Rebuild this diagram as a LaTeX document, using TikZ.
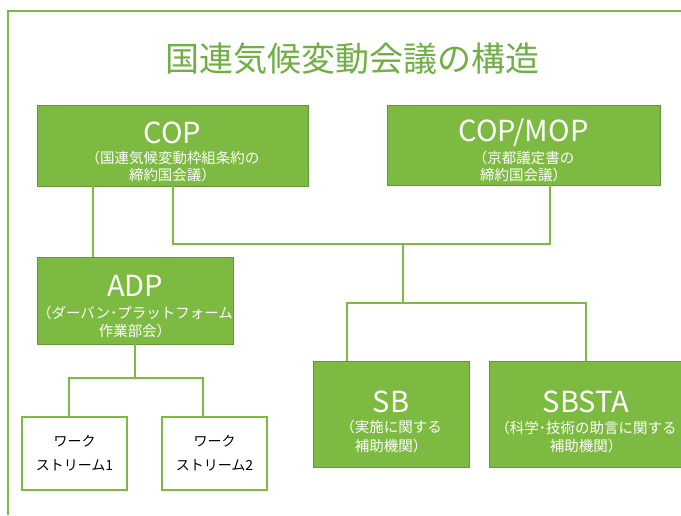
\documentclass[tikz,border=0pt]{standalone}
\usepackage{fontspec}
\setmainfont{Carlito}
\newfontfamily\jpfont{Noto Sans CJK JP}

\definecolor{leaf}{RGB}{125,186,66}
\definecolor{leafdark}{RGB}{100,152,54}
\definecolor{titlegreen}{RGB}{112,175,68}

% big english name of a body, #1 = strut to push the block down
\newcommand{\bodyname}[2][34pt]{\rule{0pt}{#1}{\fontsize{29}{30}\selectfont #2}}

\tikzset{
  body/.style={draw=leafdark,line width=0.8pt,fill=leaf,text=white,align=center,
    inner sep=0pt,font=\jpfont\fontsize{14.5}{17}\selectfont},
  stream/.style={draw=leaf,line width=1.6pt,fill=white,align=center,inner sep=0pt,
    minimum width=105pt,minimum height=73pt,font=\jpfont\fontsize{14}{24}\selectfont},
  link/.style={draw=leaf,line width=2pt},
}

\begin{document}
\begin{tikzpicture}[x=1pt,y=-1pt]
    \useasboundingbox (0,0) rectangle (681,515);
    % frame
    \draw[leaf,line width=2pt] (8,515) -- (8,11) -- (681,11);

    \node[text=titlegreen,font=\jpfont\fontsize{34}{36}\selectfont] (heading)
    at (352.5,58.5) {国連気候変動会議の構造};

    \node[body,minimum width=271pt,minimum height=81pt] (cop) at (172.5,145.5)
    {\bodyname{COP}\\[3.5pt] （国連気候変動枠組条約の\\ 締約国会議）};
    \node[body,minimum width=273pt,minimum height=80pt] (copmop) at (523.5,145)
    {\bodyname{COP/MOP}\\[3.5pt] （京都議定書の\\ 締約国会議）};
    \node[body,minimum width=196pt,minimum height=87pt] (adp) at (135,300.5)
    {\bodyname[33pt]{ADP}\\[4.5pt] （ダーバン･プラットフォーム\\[1pt] 作業部会）};
    \node[body,minimum width=156pt,minimum height=106pt] (sb) at (391,414)
    {\bodyname[37pt]{SB}\\[3.5pt] （実施に関する\\[2pt] 補助機関）};
    \node[body,minimum width=194pt,minimum height=106pt] (sbsta) at (586,414)
    {\bodyname[37pt]{SBSTA}\\[3.5pt] （科学･技術の助言に関する\\[1pt] 補助機関）};

    \node[stream] (ws1) at (74.5,453.5) {ワーク\\ストリーム1};
    \node[stream] (ws2) at (214.5,453.5) {ワーク\\ストリーム2};

    \coordinate (upfork) at (403,244);
    \coordinate (lowfork) at (403,303);
    \coordinate (adpfork) at (adp.south |- 0,378);

    \draw[link] ([xshift=56pt]cop.south west) -- ([xshift=56pt]adp.north west);
    \draw[link] (cop.south) |- (upfork) -| ([xshift=26pt]copmop.south);
    \draw[link] (upfork) -- (lowfork);
    \draw[link] ([xshift=-44pt]sb.north) |- (lowfork) -| (sbsta.north);
    \draw[link] (adp.south) -- (adpfork);
    \draw[link] ([xshift=-6pt]ws1.north) |- (adpfork) -| ([xshift=-12pt]ws2.north);
\end{tikzpicture}
\end{document}
